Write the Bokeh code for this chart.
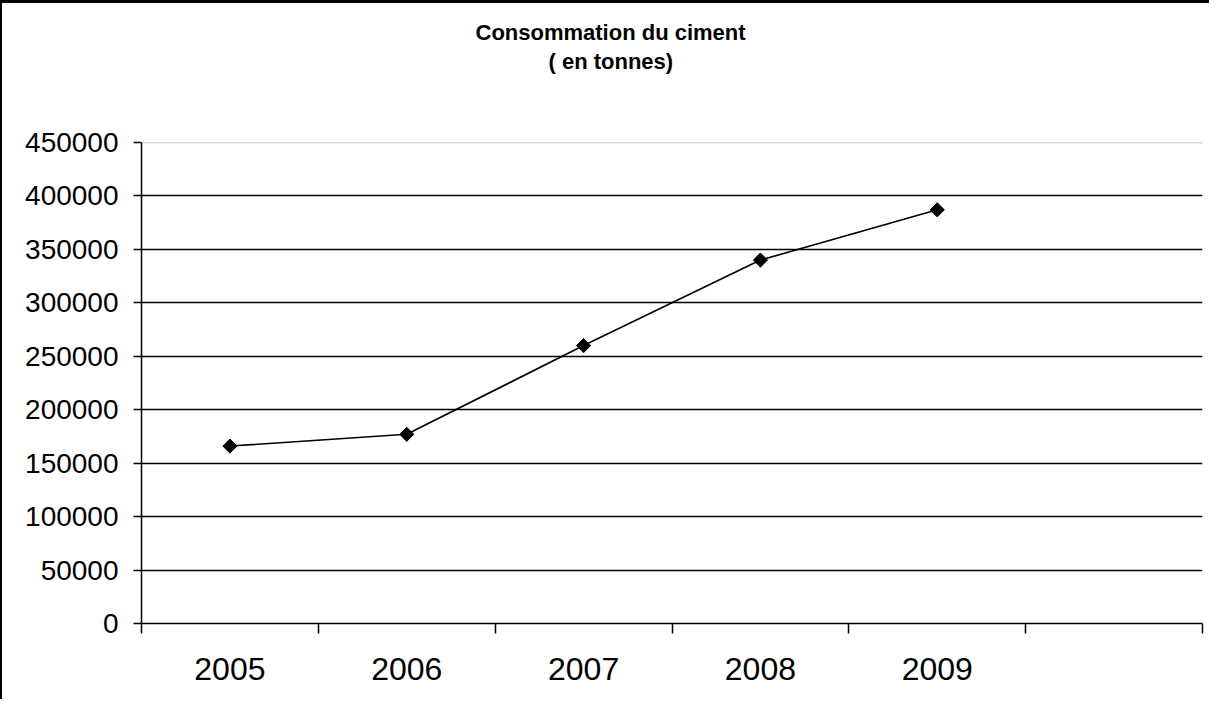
import math
from bokeh.plotting import figure
from bokeh.models import (Range1d, FixedTicker, BasicTickFormatter, Span, Title,
                          ColumnDataSource, CustomJSTickFormatter)
from bokeh.embed import file_html
from bokeh.resources import INLINE

# ---- data ----
years = ["2005", "2006", "2007", "2008", "2009"]
consumption = [166000, 177000, 260000, 340000, 387000]
y_ticks = [0, 50000, 100000, 150000, 200000, 250000, 300000, 350000, 400000, 450000]
n_slots = 6
title_lines = ["Consommation du ciment", "( en tonnes)"]

x_pos = [i + 0.5 for i in range(len(years))]
src = ColumnDataSource(dict(x=x_pos, y=consumption, year=years))

FONT = "Liberation Sans"

p = figure(width=1209, height=699, title=None,
           x_range=Range1d(0, n_slots), y_range=Range1d(y_ticks[0], y_ticks[-1]),
           output_backend="svg", toolbar_location=None,
           min_border_left=139, min_border_top=139,
           min_border_right=9, min_border_bottom=79)
p.styles = {"border-left": "2px solid #000", "border-top": "3px solid #000"}
p.outline_line_color = None
p.background_fill_color = "white"
p.border_fill_color = "white"

# grid
p.xgrid.visible = False
p.ygrid.ticker = FixedTicker(ticks=y_ticks[1:-1])
p.ygrid.grid_line_color = "black"
p.ygrid.grid_line_width = 1.3
p.add_layout(Span(location=y_ticks[-1], dimension="width",
                  line_color="#b0b0b0", line_width=1.5))

# y axis
ya = p.yaxis[0]
ya.ticker = FixedTicker(ticks=y_ticks)
ya.formatter = BasicTickFormatter(use_scientific=False)
ya.axis_line_color = "black"
ya.axis_line_width = 1.5
ya.major_tick_line_color = "black"
ya.major_tick_line_width = 1.5
ya.major_tick_out = 8
ya.major_tick_in = 0
ya.minor_tick_line_color = None
ya.major_label_standoff = 15
ya.major_label_text_font = FONT
ya.major_label_text_font_size = "28px"
ya.major_label_text_color = "black"

# x axis
xa = p.xaxis[0]
xa.ticker = FixedTicker(ticks=x_pos, minor_ticks=list(range(n_slots + 1)))
xa.formatter = CustomJSTickFormatter(args=dict(labels=years),
                                     code="const i = Math.floor(tick); return (i >= 0 && i < labels.length) ? labels[i] : '';")
xa.axis_line_color = "black"
xa.axis_line_width = 1.5
xa.major_tick_line_color = None
xa.major_tick_out = 0
xa.major_tick_in = 0
xa.minor_tick_line_color = "black"
xa.minor_tick_line_width = 1.5
xa.minor_tick_out = 10
xa.minor_tick_in = 0
xa.major_label_standoff = 24
xa.major_label_text_font = FONT
xa.major_label_text_font_size = "32px"
xa.major_label_text_color = "black"

# series
p.line("x", "y", source=src, line_color="black", line_width=1.6)
p.scatter("x", "y", source=src, marker="square", size=10, angle=math.pi / 4,
          fill_color="black", line_color="black")

# title: empty spacer panel next to the plot, then the two title lines
spacer = Title(text=" ", standoff=65, text_font_size="1px", text_color="white")
t2 = Title(text=title_lines[1], align="left", offset=407, standoff=2,
           text_font=FONT, text_font_size="22px", text_font_style="bold",
           text_color="black")
t1 = Title(text=title_lines[0], align="left", offset=334, standoff=2,
           text_font=FONT, text_font_size="22px", text_font_style="bold",
           text_color="black")
p.add_layout(spacer, "above")
p.add_layout(t2, "above")
p.add_layout(t1, "above")

open("out.html", "w").write(file_html(p, INLINE))
